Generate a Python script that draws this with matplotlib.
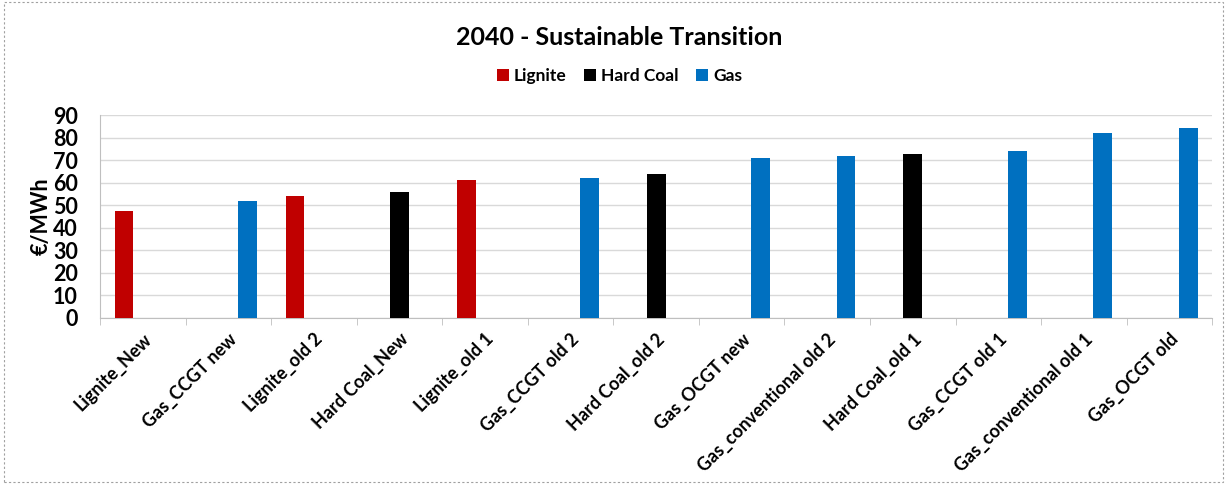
import numpy as np
import matplotlib.pyplot as plt
from matplotlib.patches import Rectangle

categories = ["Lignite_New", "Gas_CCGT new", "Lignite_old 2", "Hard Coal_New",
              "Lignite_old 1", "Gas_CCGT old 2", "Hard Coal_old 2", "Gas_OCGT new",
              "Gas_conventional old 2", "Hard Coal_old 1", "Gas_CCGT old 1",
              "Gas_conventional old 1", "Gas_OCGT old"]
nan = np.nan
lignite = [47.4, nan, 54.1, nan, 61.2, nan, nan, nan, nan, nan, nan, nan, nan]
hard_coal = [nan, nan, nan, 55.9, nan, nan, 63.8, nan, nan, 72.7, nan, nan, nan]
gas = [nan, 51.9, nan, nan, nan, 62.0, nan, 70.9, 71.9, nan, 74.3, 81.9, 84.5]

series = [("Lignite", lignite, "#c00000"),
          ("Hard Coal", hard_coal, "#000000"),
          ("Gas", gas, "#0070c0")]

plt.rcParams['font.family'] = ['Lato', 'DejaVu Sans']

fig = plt.figure(figsize=(12.27, 4.84), dpi=100)
ax = fig.add_axes([0.0815, 0.343, 0.9065, 0.419])

x = np.arange(len(categories))
w = 0.22
for i, (name, vals, col) in enumerate(series):
    ax.bar(x + (i - 1) * w, vals, w, color=col, label=name, zorder=3)

ax.set_xlim(-0.5, len(categories) - 0.5)
ax.set_ylim(0, 90)
ax.set_yticks(range(0, 91, 10))
ax.tick_params(axis='y', length=0, labelsize=15.5, pad=16)
for t in ax.get_yticklabels():
    t.set_fontweight('bold')
ax.grid(axis='y', color='#d9d9d9', linewidth=1, zorder=0)

ax.set_xticks(x)
ax.set_xticklabels(categories, rotation=45, ha='right', rotation_mode='anchor',
                   fontsize=13, fontweight='bold')
ax.set_xticks(np.arange(-0.5, len(categories)), minor=True)
ax.tick_params(axis='x', which='major', length=0, pad=9)
ax.tick_params(axis='x', which='minor', length=5, color='#bfbfbf')

for s in ['top', 'right']:
    ax.spines[s].set_visible(False)
ax.spines['left'].set_color('#bfbfbf')
ax.spines['bottom'].set_color('#bfbfbf')

ax.set_ylabel("€/MWh", fontsize=15.5, fontweight='bold', labelpad=1)

fig.text(0.505, 0.923, "2040 - Sustainable Transition", ha='center', va='center',
         fontsize=18, fontweight='bold')
fig.legend(loc='center', bbox_to_anchor=(0.505, 0.843), ncol=3, frameon=False,
           handlelength=0.7, handleheight=0.7, handletextpad=0.3, columnspacing=1.0,
           prop={'weight': 'bold', 'size': 12.5})

fig.patches.append(Rectangle((0.003, 0.004), 0.994, 0.992, transform=fig.transFigure,
                             fill=False, edgecolor='#a0a0a0', linestyle=(0, (2, 2)),
                             linewidth=0.8))

fig.savefig("out.png", dpi=100)
